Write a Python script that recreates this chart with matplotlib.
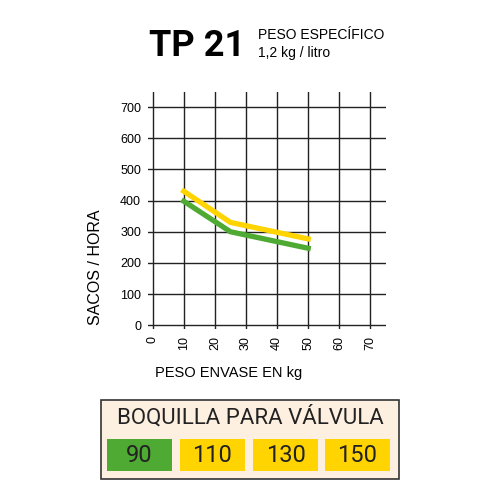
import matplotlib.pyplot as plt
from matplotlib.patches import Rectangle

# peso envase (kg) vs sacos/hora, one line per boquilla
peso = [10, 25, 50]
sacos_90 = [398, 300, 247]
sacos_110 = [430, 330, 277]

x_ticks = [0, 10, 20, 30, 40, 50, 60, 70]
y_ticks = [0, 100, 200, 300, 400, 500, 600, 700]

boquillas = ["90", "110", "130", "150"]
boquilla_colors = ["#4EAA33", "#FFD400", "#FFD400", "#FFD400"]

green = "#4EAA33"
yellow = "#FFD400"

plt.rcParams['font.family'] = ['Liberation Sans', 'DejaVu Sans']
narrow = ['Roboto', 'Liberation Sans', 'DejaVu Sans']

fig = plt.figure(figsize=(5, 5), dpi=100)
ax = fig.add_axes([0.296, 0.342, 0.476, 0.475])

ax.plot(peso, sacos_110, color=yellow, lw=3.8, solid_joinstyle="miter", zorder=3)
ax.plot(peso, sacos_90, color=green, lw=3.8, solid_joinstyle="miter", zorder=3)

ax.set_xlim(-1.5, 75)
ax.set_ylim(-12, 750)
ax.set_xticks(x_ticks)
ax.set_yticks(y_ticks)
ax.set_xticklabels([str(v) for v in x_ticks], rotation=90, fontsize=9)
ax.set_yticklabels([str(v) for v in y_ticks], fontsize=9)
ax.tick_params(length=0, pad=5)
ax.grid(True, color="#222222", lw=1.0)
ax.set_axisbelow(True)
for s in ax.spines.values():
    s.set_visible(False)

fig.text(0.19, 0.466, "SACOS / HORA", rotation=90, ha="center", va="center", fontsize=11.5)
fig.text(0.458, 0.254, "PESO ENVASE EN kg", ha="center", va="center", fontsize=10.5)

# header
fig.text(0.298, 0.908, "TP 21", family=narrow, fontweight="bold", fontsize=26,
         ha="left", va="center")
fig.text(0.515, 0.930, "PESO ESPECÍFICO", fontsize=10, ha="left", va="center")
fig.text(0.515, 0.893, "1,2 kg / litro", fontsize=10, ha="left", va="center")

# boquilla box
fig.patches.append(Rectangle((0.202, 0.042), 0.596, 0.158, transform=fig.transFigure,
                             facecolor="#FDF0E1", edgecolor="#333333", lw=1.2))
fig.text(0.5, 0.166, "BOQUILLA PARA VÁLVULA", family=narrow, fontsize=16,
         ha="center", va="center", color="#222222")
box_x = [0.214, 0.360, 0.506, 0.650]
for lab, col, bx in zip(boquillas, boquilla_colors, box_x):
    fig.patches.append(Rectangle((bx, 0.058), 0.130, 0.064, transform=fig.transFigure,
                                 facecolor=col, edgecolor="none"))
    fig.text(bx + 0.065, 0.090, lab, family=narrow, fontsize=17, ha="center", va="center",
             color="#222222")

fig.savefig("out.png", dpi=100)
